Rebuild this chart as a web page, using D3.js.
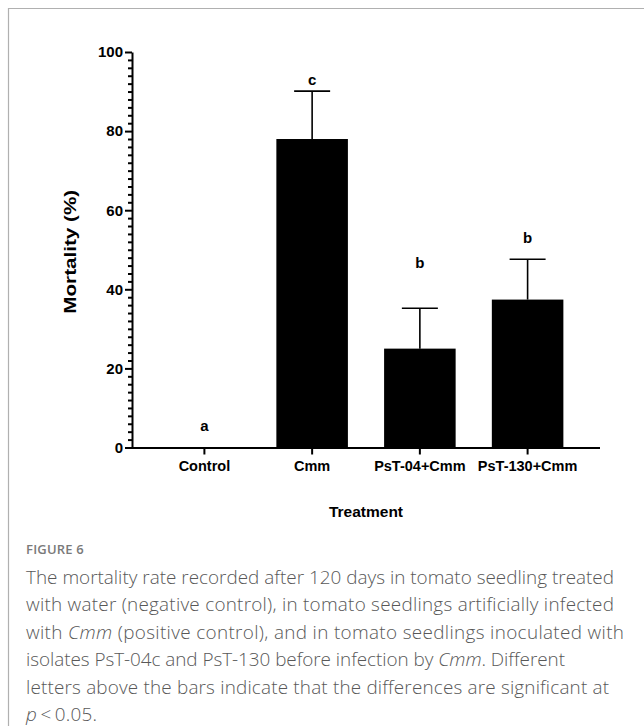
<!DOCTYPE html>
<html>
<head>
<meta charset="utf-8">
<script src="https://cdn.jsdelivr.net/npm/d3@7"></script>
<style>
  html, body { margin: 0; padding: 0; background: #fff; }
  svg { display: block; }
</style>
</head>
<body>
<svg id="chart" width="644" height="726"></svg>
<script>
const categories = ["Control", "Cmm", "PsT-04+Cmm", "PsT-130+Cmm"];
const means = [0, 78, 25, 37.4];
const errorsUp = [0, 12.1, 10.2, 10.2];
const letters = ["a", "c", "b", "b"];
const letterPos = [5.4, 92.9, 46.8, 53.1];
const yTicks = [0, 20, 40, 60, 80, 100];
const captionTitle = "FIGURE 6";
const captionLines = [
  [{t: "The mortality rate recorded after 120 days in tomato seedling treated"}],
  [{t: "with water (negative control), in tomato seedlings artificially infected"}],
  [{t: "with "}, {t: "Cmm", i: true}, {t: " (positive control), and in tomato seedlings inoculated with"}],
  [{t: "isolates PsT-04c and PsT-130 before infection by "}, {t: "Cmm", i: true}, {t: ". Different"}],
  [{t: "letters above the bars indicate that the differences are significant at"}],
  [{t: "p", i: true}, {t: "\u2009<\u20090.05."}]
];
// layout: right edge of each caption line in the reference (pixels)
const captionLineEnds = [614, 614, 624, 565, 609, 97];

const svg = d3.select("#chart");

// frame
svg.append("path")
  .attr("d", "M8.5,760 L8.5,8.5 L700,8.5")
  .attr("fill", "none").attr("stroke", "#b0b0b0").attr("stroke-width", 1.2);

const x0 = 132, x1 = 600, yBase = 447.5, yTop = 52;
const x = d3.scaleBand().domain(categories).range([x0, x1]).paddingInner(0.336).paddingOuter(0.34);
const y = d3.scaleLinear().domain([0, 100]).range([yBase, yTop]);

const font = "'Liberation Sans', Arial, Helvetica, sans-serif";

// bars
svg.append("g").selectAll("rect").data(categories).join("rect")
  .attr("x", d => x(d))
  .attr("width", x.bandwidth())
  .attr("y", (d, i) => y(means[i]))
  .attr("height", (d, i) => y(0) - y(means[i]))
  .attr("fill", "#000");

// error bars (upper only)
const capW = 36;
const eb = svg.append("g").attr("stroke", "#000").attr("stroke-width", 1.6);
categories.forEach((c, i) => {
  if (errorsUp[i] <= 0) return;
  const cx = x(c) + x.bandwidth() / 2;
  eb.append("line").attr("x1", cx).attr("x2", cx)
    .attr("y1", y(means[i])).attr("y2", y(means[i] + errorsUp[i]));
  eb.append("line").attr("x1", cx - capW / 2).attr("x2", cx + capW / 2)
    .attr("y1", y(means[i] + errorsUp[i])).attr("y2", y(means[i] + errorsUp[i]));
});

// significance letters
svg.append("g").selectAll("text").data(categories).join("text")
  .attr("x", d => x(d) + x.bandwidth() / 2)
  .attr("y", (d, i) => y(letterPos[i]))
  .attr("dy", "0.35em")
  .attr("text-anchor", "middle")
  .attr("font-family", font).attr("font-weight", "bold").attr("font-size", 15)
  .text((d, i) => letters[i]);

// y axis minor ticks
const minor = d3.range(0, 101, 2).filter(v => v % 20 !== 0);
const yMinor = svg.append("g").attr("transform", `translate(${x0},0)`)
  .call(d3.axisLeft(y).tickValues(minor).tickSize(4).tickFormat(""));
yMinor.select(".domain").remove();
yMinor.selectAll("line").attr("stroke", "#000").attr("stroke-width", 2);

// y axis major
const yAxis = svg.append("g").attr("transform", `translate(${x0},0)`)
  .call(d3.axisLeft(y).tickValues(yTicks).tickSize(7).tickSizeOuter(0).tickPadding(2).tickFormat(d3.format("d")));
yAxis.select(".domain").attr("stroke", "#000").attr("stroke-width", 2);
yAxis.selectAll("line").attr("stroke", "#000").attr("stroke-width", 2);
yAxis.attr("font-size", null).attr("font-family", null);
yAxis.selectAll("text").style("font-family", font).style("font-weight", "bold").style("font-size", "15px").attr("fill", "#000");

// x axis
const xAxis = svg.append("g").attr("transform", `translate(0,${yBase})`)
  .call(d3.axisBottom(x).tickSize(7).tickSizeOuter(0).tickPadding(6));
xAxis.select(".domain").attr("stroke", "#000").attr("stroke-width", 2)
  .attr("d", `M${x0 - 1},0.5H${x1}`);
xAxis.selectAll("line").attr("stroke", "#000").attr("stroke-width", 2);
xAxis.attr("font-size", null).attr("font-family", null);
xAxis.selectAll("text").style("font-family", font).style("font-weight", "bold").style("font-size", "14.5px").attr("fill", "#000");

// axis titles
svg.append("text")
  .attr("transform", `translate(70,${(yBase + yTop) / 2 + 2}) rotate(-90)`)
  .attr("text-anchor", "middle").attr("dy", "0.35em")
  .attr("font-family", font).attr("font-weight", "bold").attr("font-size", 16)
  .attr("textLength", 124).attr("lengthAdjust", "spacingAndGlyphs")
  .text("Mortality (%)");
svg.append("text")
  .attr("x", (x0 + x1) / 2).attr("y", 512).attr("dy", "0.35em")
  .attr("text-anchor", "middle")
  .attr("font-family", font).attr("font-weight", "bold").attr("font-size", 15.5)
  .text("Treatment");

// caption
const capFont = "'Open Sans', 'Noto Sans', sans-serif";
svg.append("text")
  .attr("x", 26).attr("y", 554)
  .attr("font-family", capFont).attr("font-size", 13).attr("font-weight", 600)
  .attr("fill", "#7a7a7a").attr("letter-spacing", "0.2")
  .text(captionTitle);
const lineStart = 584, lineH = 27.4, capX = 26;
const capTexts = captionLines.map((parts, li) => {
  const t = svg.append("text")
    .attr("x", capX).attr("y", lineStart + li * lineH)
    .attr("font-family", capFont).attr("font-size", 17).attr("font-weight", 300)
    .attr("fill", "#585858");
  parts.forEach(p => {
    t.append("tspan").attr("font-style", p.i ? "italic" : "normal").text(p.t);
  });
  return t;
});
const w0 = capTexts[0].node().getComputedTextLength();
const fs = Math.min(19, Math.max(15, 17 * 588 / w0));
capTexts.forEach((t, i) => {
  t.attr("font-size", fs);
  t.attr("textLength", captionLineEnds[i] - capX).attr("lengthAdjust", "spacing");
});
</script>
</body>
</html>
